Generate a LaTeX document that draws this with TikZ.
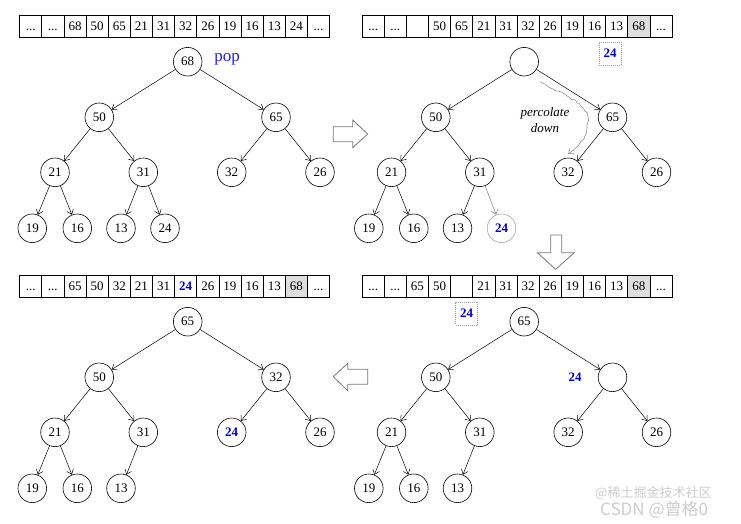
\documentclass[tikz,border=0pt]{standalone}
\usepackage{fontspec}
\setmainfont{Liberation Serif}
\newfontfamily\cjk{Noto Sans CJK SC}
\usetikzlibrary{arrows.meta,decorations.pathmorphing}
\definecolor{hlblue}{RGB}{0,0,200}
\definecolor{popblue}{RGB}{30,30,235}
\definecolor{cellgray}{RGB}{222,222,222}
\definecolor{arrgray}{RGB}{120,120,120}
\newcommand\mydots{...}
\begin{document}
\begin{tikzpicture}[x=1pt,y=-1pt,font=\fontsize{13}{13}\selectfont,
  cell/.style={draw,line width=0.7pt,minimum width=22.14pt,minimum height=22.3pt,inner sep=0pt,anchor=west,text height=9pt,text depth=0pt},
  hl/.style={fill=cellgray},
  nn/.style={},
  bb/.style={font=\fontsize{13}{13}\selectfont\bfseries,text=hlblue},
  hnode/.style={circle,draw,line width=0.6pt,minimum size=28.6pt,inner sep=0pt},
  edge/.style={line width=0.5pt,-{Straight Barb[length=4.5pt,width=7pt]}},
  tmpbox/.style={draw=gray!80,line width=0.6pt,dash pattern=on 1pt off 1pt,minimum width=22pt,minimum height=23pt,inner sep=0pt,bb},
  bigarrow/.style={draw=arrgray,fill=white,line width=0.8pt,line join=miter},
  wm/.style={text=gray!40,anchor=west,inner sep=0pt}]
\useasboundingbox (0,0) rectangle (741,523);

% ---------- top-left panel ----------
\foreach \v/\s [count=\i] in {\mydots/nn,\mydots/nn,68/nn,50/nn,65/nn,21/nn,31/nn,32/nn,26/nn,19/nn,16/nn,13/nn,24/nn,\mydots/nn}
  \node[cell,\s] (ta\i) at ({19.3+(\i-1)*22.14},26) {\v};
\node[hnode] (a0) at (187.7,61.7) {68};
\node[hnode] (a1) at (99.3,117.3) {50};
\node[hnode] (a2) at (276,117.3) {65};
\node[hnode] (a3) at (55,172.3) {21};
\node[hnode] (a4) at (143.3,172.3) {31};
\node[hnode] (a5) at (231.7,172.3) {32};
\node[hnode] (a6) at (320,172.3) {26};
\node[hnode] (a7) at (32.3,228.3) {19};
\node[hnode] (a8) at (77.3,228.3) {16};
\node[hnode] (a9) at (121,228.3) {13};
\node[hnode] (a10) at (165,228.3) {24};
\node[text=popblue,font=\fontsize{17}{17}\selectfont,inner sep=0pt] (pop) at (227,59) {pop};
\foreach \p/\c in {a0/a1,a0/a2,a1/a3,a1/a4,a2/a5,a2/a6,a3/a7,a3/a8,a4/a9,a4/a10}
  \draw[edge] (\p) -- (\c);

% ---------- top-right panel ----------
\foreach \v/\s [count=\i] in {\mydots/nn,\mydots/nn,{}/nn,50/nn,65/nn,21/nn,31/nn,32/nn,26/nn,19/nn,16/nn,13/nn,68/hl,\mydots/nn}
  \node[cell,\s] (tb\i) at ({361.7+(\i-1)*22.14},26) {\v};
\begin{scope}[shift={(336.5,0)}]
\node[hnode] (b0) at (187.7,61.7) {};
\node[hnode] (b1) at (99.3,117.3) {50};
\node[hnode] (b2) at (276,117.3) {65};
\node[hnode] (b3) at (55,172.3) {21};
\node[hnode] (b4) at (143.3,172.3) {31};
\node[hnode] (b5) at (231.7,172.3) {32};
\node[hnode] (b6) at (320,172.3) {26};
\node[hnode] (b7) at (32.3,228.3) {19};
\node[hnode] (b8) at (77.3,228.3) {16};
\node[hnode] (b9) at (121,228.3) {13};
\node[hnode,draw=gray!70,bb] (b10) at (165,228.3) {24};
\end{scope}
\foreach \p/\c in {b0/b1,b0/b2,b1/b3,b1/b4,b2/b5,b2/b6,b3/b7,b3/b8,b4/b9}
  \draw[edge] (\p) -- (\c);
\draw[edge,draw=gray] (b4) -- (b10);
\node[tmpbox] (bt) at (610,53.3) {24};
\node[font=\fontsize{13}{16.6}\selectfont\itshape,align=center,inner sep=0pt] (perc) at (545,120) {percolate\\down};
\coordinate (ps) at (540,81.7);
\coordinate (pm) at (577,147);
\coordinate (pe) at (568.3,154);
\draw[gray,line width=0.5pt,decorate,decoration={random steps,segment length=3pt,amplitude=1pt}]
  (ps) .. controls (570,98) and (592,104) .. (587,127) .. controls (585,138) and (581,143) .. (pm);
\draw[gray,line width=0.5pt,-{Straight Barb[length=4.5pt,width=7pt]}] (pm) -- (pe);

% ---------- bottom-right panel ----------
\foreach \v/\s [count=\i] in {\mydots/nn,\mydots/nn,65/nn,50/nn,{}/nn,21/nn,31/nn,32/nn,26/nn,19/nn,16/nn,13/nn,68/hl,\mydots/nn}
  \node[cell,\s] (tc\i) at ({361.7+(\i-1)*22.14},286) {\v};
\begin{scope}[shift={(336.5,260)}]
\node[hnode] (c0) at (187.7,61.7) {65};
\node[hnode] (c1) at (99.3,117.3) {50};
\node[hnode] (c2) at (276,117.3) {};
\node[hnode] (c3) at (55,172.3) {21};
\node[hnode] (c4) at (143.3,172.3) {31};
\node[hnode] (c5) at (231.7,172.3) {32};
\node[hnode] (c6) at (320,172.3) {26};
\node[hnode] (c7) at (32.3,228.3) {19};
\node[hnode] (c8) at (77.3,228.3) {16};
\node[hnode] (c9) at (121,228.3) {13};
\end{scope}
\foreach \p/\c in {c0/c1,c0/c2,c1/c3,c1/c4,c2/c5,c2/c6,c3/c7,c3/c8,c4/c9}
  \draw[edge] (\p) -- (\c);
\node[tmpbox] (ct) at (466.7,313.3) {24};
\node[bb,inner sep=0pt] (c24) at (575,377) {24};

% ---------- bottom-left panel ----------
\foreach \v/\s [count=\i] in {\mydots/nn,\mydots/nn,65/nn,50/nn,32/nn,21/nn,31/nn,24/bb,26/nn,19/nn,16/nn,13/nn,68/hl,\mydots/nn}
  \node[cell,\s] (td\i) at ({19.3+(\i-1)*22.14},286) {\v};
\begin{scope}[shift={(0,260)}]
\node[hnode] (d0) at (187.7,61.7) {65};
\node[hnode] (d1) at (99.3,117.3) {50};
\node[hnode] (d2) at (276,117.3) {32};
\node[hnode] (d3) at (55,172.3) {21};
\node[hnode] (d4) at (143.3,172.3) {31};
\node[hnode,bb] (d5) at (231.7,172.3) {24};
\node[hnode] (d6) at (320,172.3) {26};
\node[hnode] (d7) at (32.3,228.3) {19};
\node[hnode] (d8) at (77.3,228.3) {16};
\node[hnode] (d9) at (121,228.3) {13};
\end{scope}
\foreach \p/\c in {d0/d1,d0/d2,d1/d3,d1/d4,d2/d5,d2/d6,d3/d7,d3/d8,d4/d9}
  \draw[edge] (\p) -- (\c);

% ---------- big arrows ----------
\draw[bigarrow] (333.3,126.7) -- (352.7,126.7) -- (352.7,120) -- (367.7,134) -- (352.7,147.7) -- (352.7,141.7) -- (333.3,141.7) -- cycle;
\draw[bigarrow] (550.7,235) -- (561.7,235) -- (561.7,252.7) -- (574.3,252.7) -- (555.7,269.3) -- (537.3,252.7) -- (550.7,252.7) -- cycle;
\draw[bigarrow] (333.3,376.7) -- (347.7,363.3) -- (347.7,369.3) -- (367.7,369.3) -- (367.7,384.3) -- (347.7,384.3) -- (347.7,390.7) -- cycle;

% ---------- watermark ----------
\node[wm,font=\cjk\fontsize{13}{13}\selectfont] (wm1) at (595,493) {@稀土掘金技术社区};
\node[wm,font=\cjk\fontsize{17}{17}\selectfont] (wm2) at (600,510) {CSDN @曾格0};
\end{tikzpicture}
\end{document}
